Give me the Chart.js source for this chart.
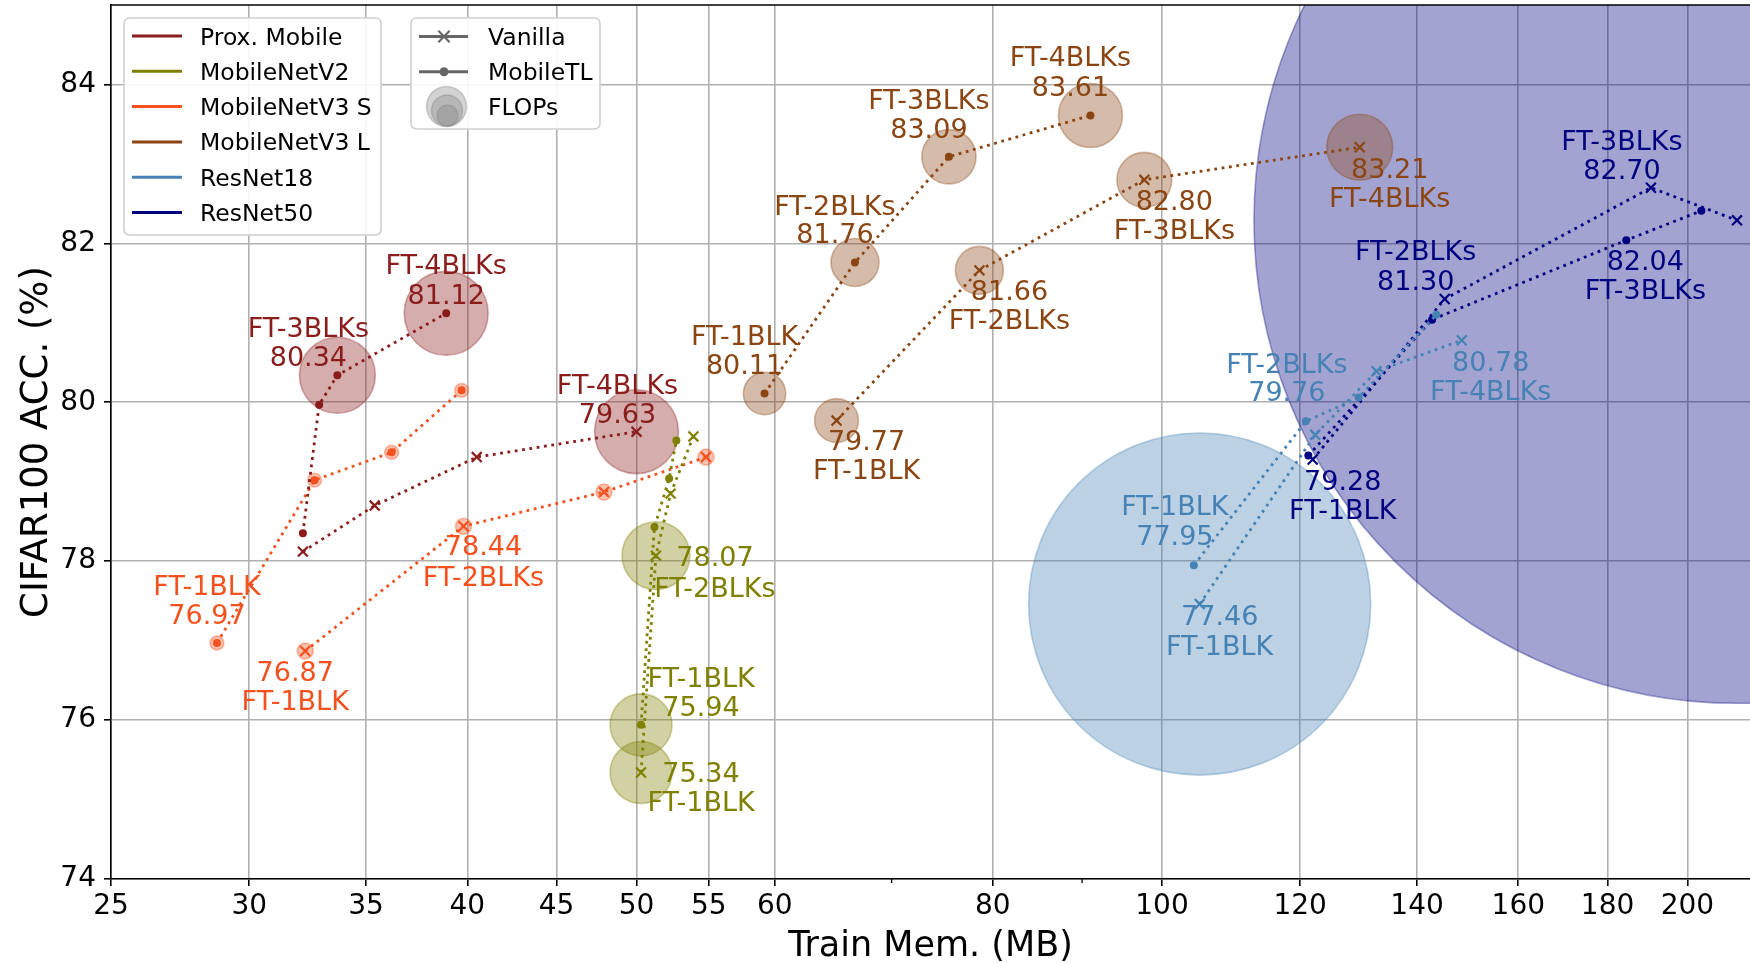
<!DOCTYPE html>
<html>
<head>
<meta charset="utf-8">
<script src="https://cdn.jsdelivr.net/npm/chart.js@4.4.1/dist/chart.umd.min.js"></script>
<style>
  html, body { margin: 0; padding: 0; background: #ffffff; }
  #wrap { width: 1750px; height: 963px; position: relative; }
</style>
</head>
<body>
<div id="wrap"><canvas id="c" width="1750" height="963"></canvas></div>
<script>
// ---------------------------------------------------------------------------
// Data: training memory (MB) vs. CIFAR100 accuracy (%) for each fine-tuning
// depth, for plain fine-tuning ("Vanilla") and MobileTL.
// FLOPs are relative values (bubble area is proportional); null = no bubble.
// ---------------------------------------------------------------------------
const stages = ['FT-1BLK', 'FT-2BLKs', 'FT-3BLKs', 'FT-4BLKs'];

const proxVanillaMem   = [32.2, 35.4, 40.5, 50.0];
const proxVanillaAcc   = [78.12, 78.70, 79.31, 79.63];
const proxVanillaFlops = [null, null, null, 110];
const proxMtlMem       = [32.2, 32.9, 33.7, 38.9];
const proxMtlAcc       = [78.35, 79.97, 80.34, 81.12];
const proxMtlFlops     = [null, null, 90, 110];

const v2VanillaMem   = [50.3, 51.3, 52.3, 53.9];
const v2VanillaAcc   = [75.34, 78.07, 78.85, 79.57];
const v2VanillaFlops = [60, 72, null, null];
const v2MtlMem       = [50.3, 51.2, 52.2, 52.7];
const v2MtlAcc       = [75.94, 78.43, 79.04, 79.52];
const v2MtlFlops     = [60, null, null, null];

const v3sVanillaMem   = [32.3, 39.8, 47.9, 54.8];
const v3sVanillaAcc   = [76.87, 78.44, 78.87, 79.31];
const v3sVanillaFlops = [4, 4, 4, 4];
const v3sMtlMem       = [28.75, 32.7, 36.2, 39.7];
const v3sMtlAcc       = [76.97, 79.02, 79.37, 80.15];
const v3sMtlFlops     = [3, 3, 3, 3];

const v3lVanillaMem   = [65.1, 78.6, 97.7, 129.8];
const v3lVanillaAcc   = [79.77, 81.66, 82.80, 83.21];
const v3lVanillaFlops = [30, 36, 47, 68];
const v3lMtlMem       = [59.2, 66.7, 75.5, 91.0];
const v3lMtlAcc       = [80.11, 81.76, 83.09, 83.61];
const v3lMtlFlops     = [28, 36, 46, 64];

const r18VanillaMem   = [105.1, 122.4, 132.7, 148.5];
const r18VanillaAcc   = [77.46, 79.59, 80.39, 80.78];
const r18VanillaFlops = [1828, null, null, null];
const r18MtlMem       = [104.3, 120.9, 129.6, 143.6];
const r18MtlAcc       = [77.95, 79.76, 80.06, 81.10];
const r18MtlFlops     = [null, null, null, null];

const r50VanillaMem   = [122.0, 145.2, 190.6, 213.5];
const r50VanillaAcc   = [79.28, 81.30, 82.70, 82.29];
const r50VanillaFlops = [null, null, null, 14580];
const r50MtlMem       = [121.3, 142.8, 184.5, 203.7];
const r50MtlAcc       = [79.33, 81.04, 82.04, 82.41];
const r50MtlFlops     = [null, null, null, null];

// Axis ticks
const xTicks = [25, 30, 35, 40, 45, 50, 55, 60, 80, 100, 120, 140, 160, 180, 200];
const xMinorTicks = [70, 90];
const yTicks = [74, 76, 78, 80, 82, 84];

// ---------------------------------------------------------------------------
// Styling and annotation placement
// ---------------------------------------------------------------------------
const FONT = '"DejaVu Sans", "Liberation Sans", sans-serif';
const BUBBLE_SCALE = 4;      // radius = BUBBLE_SCALE * sqrt(flops)
const BUBBLE_ALPHA = 0.36;

// [dx, dy of top line, dy of bottom line] in px from the point, or null.
const tagPlacement = {
  proxVanilla: [null, null, null, [-19, -48, -19]],
  proxMtl:     [null, null, [-29, -48, -19], [0, -49, -19]],
  v2Vanilla:   [[60, 0, 29], [59, 1, 32], null, null],
  v2Mtl:       [[60, -48, -19], null, null, null],
  v3sVanilla:  [[-10, 20, 49], [20, 19, 50], null, null],
  v3sMtl:      [[-10, -58, -29], null, null, null],
  v3lVanilla:  [[30, 20, 49], [30, 20, 49], [30, 20, 49], [30, 21, 50]],
  v3lMtl:      [[-20, -58, -29], [-20, -57, -29], [-20, -58, -29], [-20, -59, -29]],
  r18Vanilla:  [[20, 11, 41], null, null, [29, 21, 50]],
  r18Mtl:      [[-19, -60, -30], [-19, -58, -30], null, null],
  r50Vanilla:  [[30, 21, 50], [-29, -49, -19], [-29, -48, -19], null],
  r50Mtl:      [null, null, [19, 20, 49], null]
};

const models = [
  { name: 'Prox. Mobile', color: '#8b1c1c', rgb: [139, 28, 28],
    vanilla: { key: 'proxVanilla', mem: proxVanillaMem, acc: proxVanillaAcc, flops: proxVanillaFlops },
    mtl:     { key: 'proxMtl', mem: proxMtlMem, acc: proxMtlAcc, flops: proxMtlFlops } },
  { name: 'MobileNetV2', color: '#808000', rgb: [128, 128, 0],
    vanilla: { key: 'v2Vanilla', mem: v2VanillaMem, acc: v2VanillaAcc, flops: v2VanillaFlops },
    mtl:     { key: 'v2Mtl', mem: v2MtlMem, acc: v2MtlAcc, flops: v2MtlFlops } },
  { name: 'MobileNetV3 S', color: '#f4511e', rgb: [244, 81, 30],
    vanilla: { key: 'v3sVanilla', mem: v3sVanillaMem, acc: v3sVanillaAcc, flops: v3sVanillaFlops },
    mtl:     { key: 'v3sMtl', mem: v3sMtlMem, acc: v3sMtlAcc, flops: v3sMtlFlops } },
  { name: 'MobileNetV3 L', color: '#8b4513', rgb: [139, 69, 19],
    vanilla: { key: 'v3lVanilla', mem: v3lVanillaMem, acc: v3lVanillaAcc, flops: v3lVanillaFlops },
    mtl:     { key: 'v3lMtl', mem: v3lMtlMem, acc: v3lMtlAcc, flops: v3lMtlFlops } },
  { name: 'ResNet18', color: '#4682b4', rgb: [70, 130, 180],
    vanilla: { key: 'r18Vanilla', mem: r18VanillaMem, acc: r18VanillaAcc, flops: r18VanillaFlops },
    mtl:     { key: 'r18Mtl', mem: r18MtlMem, acc: r18MtlAcc, flops: r18MtlFlops } },
  { name: 'ResNet50', color: '#000080', rgb: [0, 0, 128],
    vanilla: { key: 'r50Vanilla', mem: r50VanillaMem, acc: r50VanillaAcc, flops: r50VanillaFlops },
    mtl:     { key: 'r50Mtl', mem: r50MtlMem, acc: r50MtlAcc, flops: r50MtlFlops } }
];

const rgba = (rgb, a) => `rgba(${rgb[0]},${rgb[1]},${rgb[2]},${a})`;

// ---------------------------------------------------------------------------
// Datasets
// ---------------------------------------------------------------------------
const datasets = [];
models.forEach(m => {
  // FLOPs bubbles (drawn underneath the lines)
  const bubbles = [];
  [m.vanilla, m.mtl].forEach(s => {
    s.flops.forEach((f, i) => {
      if (f !== null) bubbles.push({ x: s.mem[i], y: s.acc[i], r: BUBBLE_SCALE * Math.sqrt(f) });
    });
  });
  datasets.push({
    type: 'bubble', label: m.name + ' FLOPs', data: bubbles, order: 5, clip: 0,
    backgroundColor: rgba(m.rgb, BUBBLE_ALPHA), borderColor: rgba(m.rgb, BUBBLE_ALPHA),
    borderWidth: 1.6, hoverRadius: 0, hoverBorderWidth: 1.6
  });
  // Vanilla and MobileTL trajectories
  const lineStyle = {
    type: 'line', showLine: true, fill: false, tension: 0, order: 1, clip: 0,
    borderColor: m.color, borderWidth: 2.8, borderDash: [2.8, 4.6], borderCapStyle: 'butt'
  };
  datasets.push(Object.assign({}, lineStyle, {
    label: m.name + ' Vanilla',
    data: m.vanilla.mem.map((x, i) => ({ x, y: m.vanilla.acc[i] })),
    pointStyle: 'crossRot', pointRadius: 7, pointBorderWidth: 2.2,
    pointBorderColor: m.color, pointBackgroundColor: m.color, pointHoverRadius: 7
  }));
  datasets.push(Object.assign({}, lineStyle, {
    label: m.name + ' MobileTL',
    data: m.mtl.mem.map((x, i) => ({ x, y: m.mtl.acc[i] })),
    pointStyle: 'circle', pointRadius: 4, pointBorderWidth: 0,
    pointBorderColor: m.color, pointBackgroundColor: m.color, pointHoverRadius: 4
  }));
});

// ---------------------------------------------------------------------------
// Decorations: minor ticks, top spine, point tags, legends, axis titles
// ---------------------------------------------------------------------------
function textAt(ctx, str, x, yCenter, size, color, align) {
  ctx.font = `${size}px ${FONT}`;
  ctx.fillStyle = color;
  ctx.textAlign = align || 'center';
  ctx.textBaseline = 'alphabetic';
  ctx.fillText(str, x, yCenter + 0.365 * size);
}

function roundRect(ctx, x, y, w, h, r) {
  ctx.beginPath();
  ctx.moveTo(x + r, y);
  ctx.lineTo(x + w - r, y);
  ctx.quadraticCurveTo(x + w, y, x + w, y + r);
  ctx.lineTo(x + w, y + h - r);
  ctx.quadraticCurveTo(x + w, y + h, x + w - r, y + h);
  ctx.lineTo(x + r, y + h);
  ctx.quadraticCurveTo(x, y + h, x, y + h - r);
  ctx.lineTo(x, y + r);
  ctx.quadraticCurveTo(x, y, x + r, y);
  ctx.closePath();
}

function drawCross(ctx, cx, cy, r, color, lw) {
  const d = r * Math.SQRT1_2;
  ctx.strokeStyle = color; ctx.lineWidth = lw;
  ctx.beginPath();
  ctx.moveTo(cx - d, cy - d); ctx.lineTo(cx + d, cy + d);
  ctx.moveTo(cx + d, cy - d); ctx.lineTo(cx - d, cy + d);
  ctx.stroke();
}

const decor = {
  id: 'decor',
  afterDraw(chart) {
    const ctx = chart.ctx;
    const xs = chart.scales.x, ys = chart.scales.y;
    const area = chart.chartArea;
    ctx.save();

    // minor x ticks
    ctx.strokeStyle = '#000'; ctx.lineWidth = 1.3;
    xMinorTicks.forEach(v => {
      const px = xs.getPixelForValue(v);
      ctx.beginPath(); ctx.moveTo(px, area.bottom); ctx.lineTo(px, area.bottom + 4); ctx.stroke();
    });

    // top spine
    ctx.lineWidth = 1.6;
    ctx.beginPath(); ctx.moveTo(area.left, area.top); ctx.lineTo(area.right, area.top); ctx.stroke();

    // point tags
    models.forEach(m => {
      [m.vanilla, m.mtl].forEach(s => {
        const place = tagPlacement[s.key];
        s.mem.forEach((mem, i) => {
          const p = place[i];
          if (!p) return;
          const px = xs.getPixelForValue(mem), py = ys.getPixelForValue(s.acc[i]);
          const value = s.acc[i].toFixed(2);
          const lines = p[2] < 0 ? [stages[i], value] : [value, stages[i]];
          textAt(ctx, lines[0], px + p[0], py + p[1], 27, m.color);
          textAt(ctx, lines[1], px + p[0], py + p[2], 27, m.color);
        });
      });
    });

    // legend: models
    roundRect(ctx, 124, 18, 257, 217, 6);
    ctx.fillStyle = 'rgba(255,255,255,0.9)'; ctx.fill();
    ctx.strokeStyle = '#cfcfcf'; ctx.lineWidth = 1.6; ctx.stroke();
    models.forEach((m, i) => {
      const y = 36 + i * 35.3;
      ctx.strokeStyle = m.color; ctx.lineWidth = 3;
      ctx.beginPath(); ctx.moveTo(132, y); ctx.lineTo(182, y); ctx.stroke();
      textAt(ctx, m.name, 200, y, 23.5, '#000', 'left');
    });

    // legend: methods and FLOPs
    roundRect(ctx, 411, 18, 189, 111, 6);
    ctx.fillStyle = 'rgba(255,255,255,0.9)'; ctx.fill();
    ctx.strokeStyle = '#cfcfcf'; ctx.lineWidth = 1.6; ctx.stroke();
    const grey = '#666666';
    ctx.strokeStyle = grey; ctx.lineWidth = 3;
    ctx.beginPath(); ctx.moveTo(419, 36.5); ctx.lineTo(468, 36.5); ctx.stroke();
    drawCross(ctx, 444, 36.5, 8, grey, 2.2);
    textAt(ctx, 'Vanilla', 488, 36.5, 23.5, '#000', 'left');
    ctx.strokeStyle = grey; ctx.lineWidth = 3;
    ctx.beginPath(); ctx.moveTo(419, 71.7); ctx.lineTo(468, 71.7); ctx.stroke();
    ctx.fillStyle = grey;
    ctx.beginPath(); ctx.arc(444, 71.7, 4.5, 0, Math.PI * 2); ctx.fill();
    textAt(ctx, 'MobileTL', 488, 71.7, 23.5, '#000', 'left');
    [[446.5, 106.5, 20], [447, 110.5, 15.5], [447.5, 115.5, 10.5]].forEach(c => {
      ctx.beginPath(); ctx.arc(c[0], c[1], c[2], 0, Math.PI * 2);
      ctx.fillStyle = 'rgba(128,128,128,0.35)'; ctx.fill();
      ctx.strokeStyle = 'rgba(128,128,128,0.35)'; ctx.lineWidth = 1.5; ctx.stroke();
    });
    textAt(ctx, 'FLOPs', 488, 106.7, 23.5, '#000', 'left');

    // axis titles
    textAt(ctx, 'Train Mem. (MB)', (area.left + area.right) / 2, 943, 35, '#000');
    ctx.save();
    ctx.translate(33.5, (area.top + area.bottom) / 2);
    ctx.rotate(-Math.PI / 2);
    textAt(ctx, 'CIFAR100 ACC. (%)', 0, 0, 37, '#000');
    ctx.restore();

    ctx.restore();
  }
};

// ---------------------------------------------------------------------------
// Chart
// ---------------------------------------------------------------------------
const tickFont = { family: FONT, size: 28 };
new Chart(document.getElementById('c'), {
  type: 'scatter',
  data: { datasets },
  options: {
    responsive: false,
    animation: false,
    devicePixelRatio: 1,
    events: [],
    layout: { autoPadding: false, padding: { top: 5, right: 0, left: 0, bottom: 0 } },
    plugins: { legend: { display: false }, tooltip: { enabled: false } },
    scales: {
      x: {
        type: 'logarithmic', min: 25, max: 217.2, bounds: 'data',
        afterBuildTicks: s => { s.ticks = xTicks.map(v => ({ value: v })); },
        afterFit: s => { s.height = 84; s.paddingLeft = 0; s.paddingRight = 0; },
        ticks: { autoSkip: false, maxRotation: 0, minRotation: 0, padding: 4, color: '#000',
                 font: tickFont, callback: v => String(v) },
        grid: { color: '#b0b0b0', lineWidth: 1.6, tickColor: '#000', tickLength: 7, tickWidth: 1.6 },
        border: { color: '#000', width: 1.6 }
      },
      y: {
        type: 'linear', min: 74, max: 85, bounds: 'data',
        afterBuildTicks: s => { s.ticks = yTicks.map(v => ({ value: v })); },
        afterFit: s => { s.width = 111; s.paddingTop = 0; s.paddingBottom = 0; },
        ticks: { padding: 8, color: '#000', font: tickFont, callback: v => String(v) },
        grid: { color: '#b0b0b0', lineWidth: 1.6, tickColor: '#000', tickLength: 7, tickWidth: 1.6 },
        border: { color: '#000', width: 1.6 }
      }
    }
  },
  plugins: [decor]
});
</script>
</body>
</html>
